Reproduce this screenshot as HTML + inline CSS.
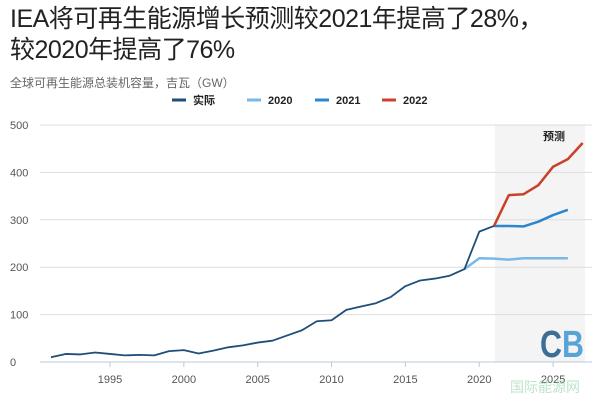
<!DOCTYPE html><html><head><meta charset="utf-8"><style>
body{margin:0;width:600px;height:400px;background:#fff;overflow:hidden;font-family:"Liberation Sans","Noto Sans CJK SC",sans-serif}
.t{position:absolute;left:10px;top:4px;font-size:25px;line-height:31px;color:#222;letter-spacing:-0.5px}
.s{position:absolute;left:10px;top:74px;font-size:12px;color:#666}
</style></head><body>
<div class="t">IEA将可再生能源增长预测较2021年提高了28%，<br>较2020年提高了76%</div>
<div class="s">全球可再生能源总装机容量，吉瓦（GW）</div>
<svg id="c" width="600" height="400" style="position:absolute;left:0;top:0" font-family="Liberation Sans, Noto Sans CJK SC, sans-serif"></svg>
<script>
const X=y=>110+(y-1995)*14.77, Y=v=>362-v*0.474;
let s='';
s+=`<rect x="495" y="125" width="90" height="237" fill="#f4f4f4"/>`;
[100,200,300,400,500].forEach(v=>{s+=`<line x1="40" x2="592" y1="${Y(v)}" y2="${Y(v)}" stroke="#ddd"/>`});
s+=`<line x1="40" x2="592" y1="362" y2="362" stroke="#b8c8d8"/>`;
[0,100,200,300,400,500].forEach(v=>{s+=`<text x="10" y="${Y(v)+4}" font-size="11" fill="#555">${v}</text>`});
[1995,2000,2005,2010,2015,2020,2025].forEach(y=>{s+=`<line x1="${X(y)}" x2="${X(y)}" y1="362" y2="367" stroke="#b8c8d8"/><text x="${X(y)}" y="383" font-size="11" fill="#555" text-anchor="middle">${y}</text>`});
const pl=(a,y0,c,w)=>`<polyline fill="none" stroke="${c}" stroke-width="${w}" stroke-linejoin="round" points="${a.map((v,i)=>X(y0+i)+','+Y(v)).join(' ')}"/>`;
s+=pl([196,219,218,216,219,219,219,219],2019,'#7ab8e6',2.5);
s+=pl([287,287,286,296,310,321],2021,'#2d86cc',2.5);
s+=pl([287,352,354,373,412,428,462],2021,'#c8412a',2.5);
s+=pl([10,17,16,20,17,14,15,14,23,25,18,24,31,35,41,45,56,67,86,88,110,117,124,137,160,172,176,182,196,275,287],1991,'#1f4e79',1.8);
s+=`<text x="543" y="140" font-size="11" font-weight="bold" fill="#222">预测</text>`;
const lg=[['实际','#1f4e79',172],['2020','#7ab8e6',247],['2021','#2d86cc',315],['2022','#c8412a',382]];
lg.forEach(([t,c,x])=>{s+=`<line x1="${x}" x2="${x+14}" y1="100" y2="100" stroke="${c}" stroke-width="3"/><text x="${x+21}" y="104" font-size="11" font-weight="bold" fill="#222">${t}</text>`});
s+=`<text x="540" y="357" font-size="38" font-weight="bold" fill="#3d6e96" transform="translate(540 357) scale(0.8 1) translate(-540 -357)">C<tspan fill="#5aa3d6">B</tspan></text>`;
s+=`<text x="510" y="392" font-size="14" fill="#8fd3a6" opacity="0.6">国际能源网</text>`;
document.getElementById('c').innerHTML=s;
</script>
</body></html>
